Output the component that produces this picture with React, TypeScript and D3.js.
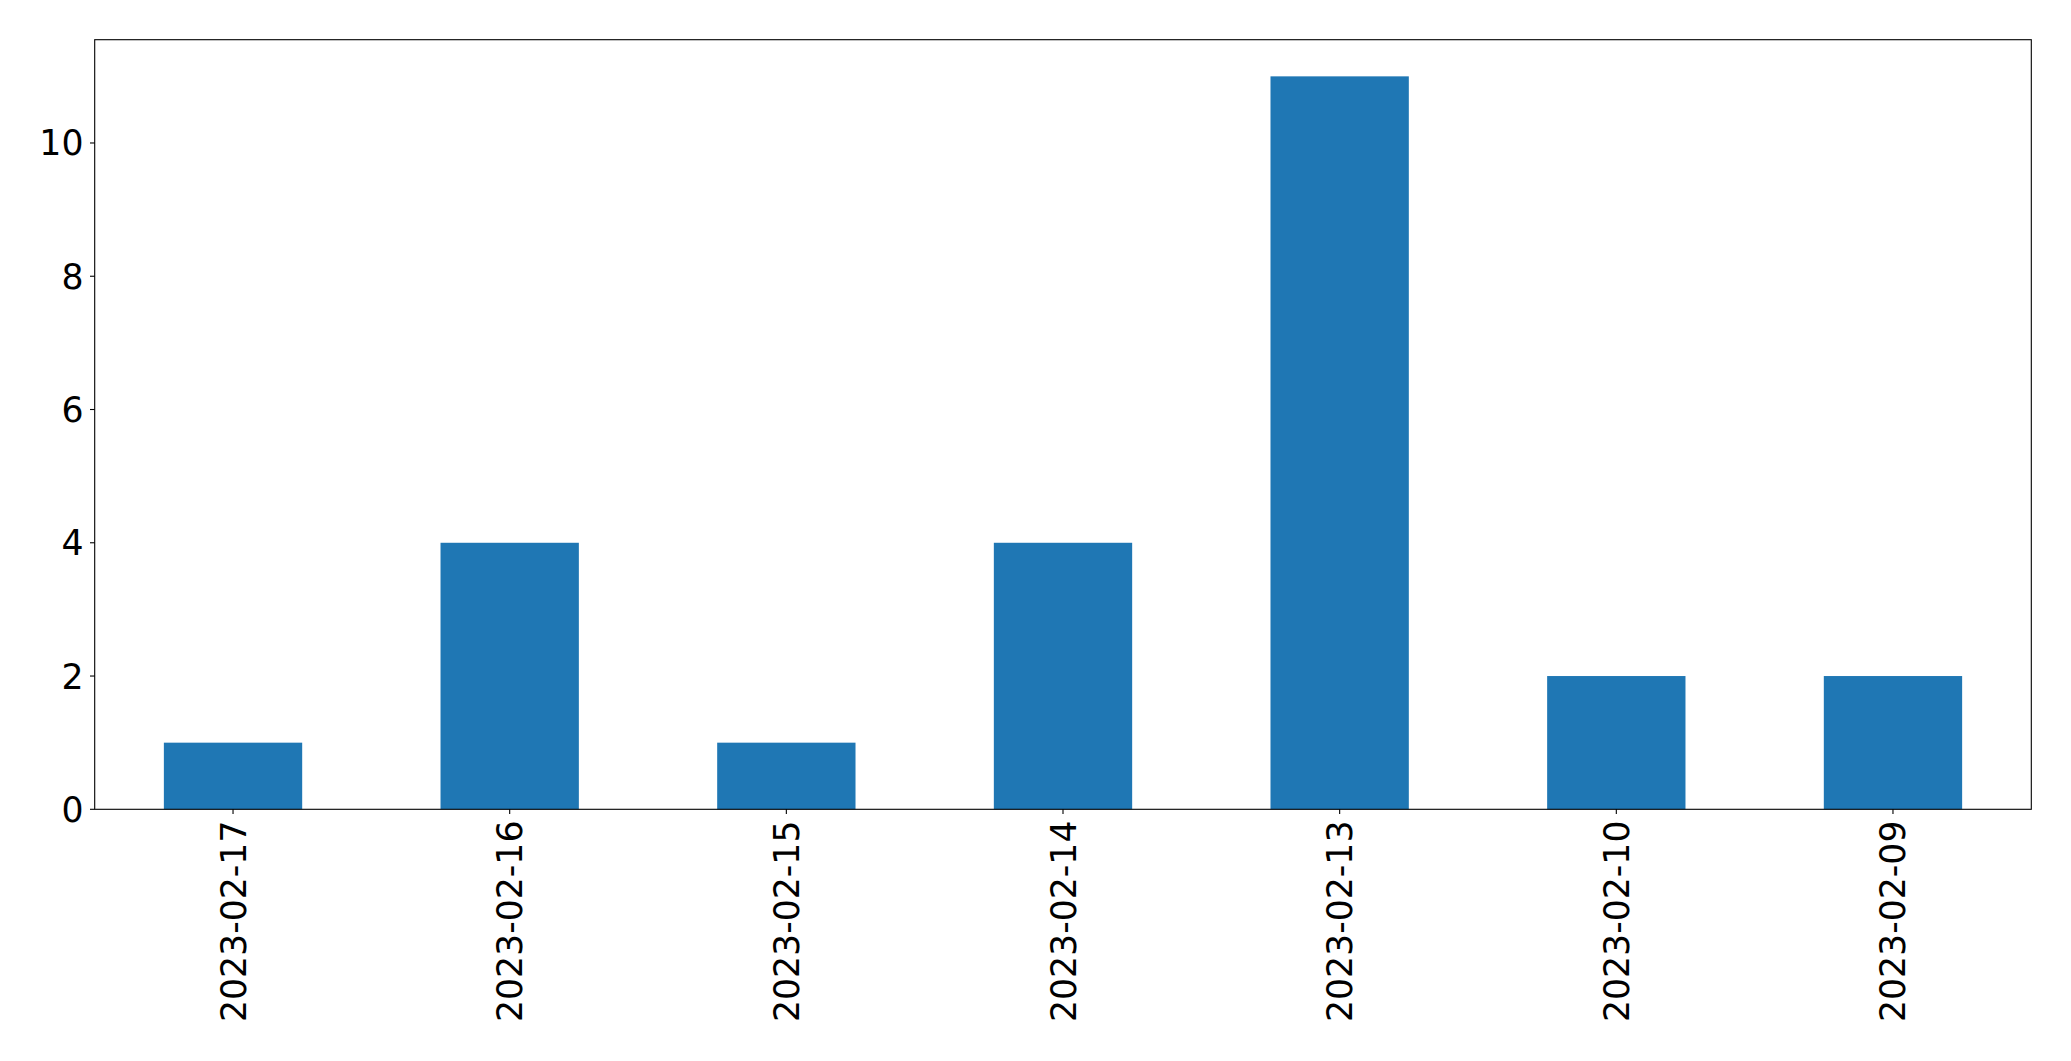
import React, { useEffect, useRef } from "react";
import * as d3 from "d3";

const categories = ["2023-02-17", "2023-02-16", "2023-02-15", "2023-02-14", "2023-02-13", "2023-02-10", "2023-02-09"];
const values = [1, 4, 1, 4, 11, 2, 2];
const yTicks = [0, 2, 4, 6, 8, 10];

const W = 2071;
const H = 1061;
const M = { left: 94.7, right: 2031.3, top: 39.7, bottom: 809.3 };
const FONT = "'DejaVu Sans', sans-serif";
const FS = 34.7;

export default function App() {
  const ref = useRef<SVGSVGElement>(null);
  useEffect(() => {
    const svg = d3.select(ref.current);
    svg.selectAll("*").remove();
    const x = d3.scaleBand().domain(categories).range([M.left, M.right]).paddingInner(0.5).paddingOuter(0.25);
    const y = d3.scaleLinear().domain([0, d3.max(values)! * 1.05]).range([M.bottom, M.top]);

    svg.append("rect").attr("width", W).attr("height", H).attr("fill", "white");

    svg.selectAll("rect.bar").data(values).enter().append("rect")
      .attr("class", "bar")
      .attr("x", (_, i) => x(categories[i])!)
      .attr("width", x.bandwidth())
      .attr("y", (d) => y(d))
      .attr("height", (d) => y(0) - y(d))
      .attr("fill", "#1f77b4");

    // frame
    svg.append("rect").attr("x", M.left).attr("y", M.top)
      .attr("width", M.right - M.left).attr("height", M.bottom - M.top)
      .attr("fill", "none").attr("stroke", "black").attr("stroke-width", 1.1);

    const tl = 4.7;
    const yg = svg.append("g");
    yTicks.forEach((t) => {
      yg.append("line").attr("x1", M.left - tl).attr("x2", M.left).attr("y1", y(t)).attr("y2", y(t))
        .attr("stroke", "black").attr("stroke-width", 1.1);
      yg.append("text").attr("x", M.left - tl - 6.5).attr("y", y(t)).attr("dy", "0.36em")
        .attr("text-anchor", "end").attr("font-family", FONT).attr("font-size", FS).attr("fill", "black")
        .text(String(t));
    });

    const xg = svg.append("g");
    categories.forEach((c) => {
      const cx = x(c)! + x.bandwidth() / 2;
      xg.append("line").attr("x1", cx).attr("x2", cx).attr("y1", M.bottom).attr("y2", M.bottom + tl)
        .attr("stroke", "black").attr("stroke-width", 1.1);
      xg.append("text")
        .attr("transform", `translate(${cx},${M.bottom + tl + 6.5}) rotate(-90)`)
        .attr("text-anchor", "end").attr("dy", "0.36em")
        .attr("font-family", FONT).attr("font-size", FS).attr("fill", "black")
        .text(c);
    });
  }, []);
  return (
    <svg ref={ref} width={W} height={H} style={{ position: "absolute", left: 0, top: 0 }} />
  );
}
